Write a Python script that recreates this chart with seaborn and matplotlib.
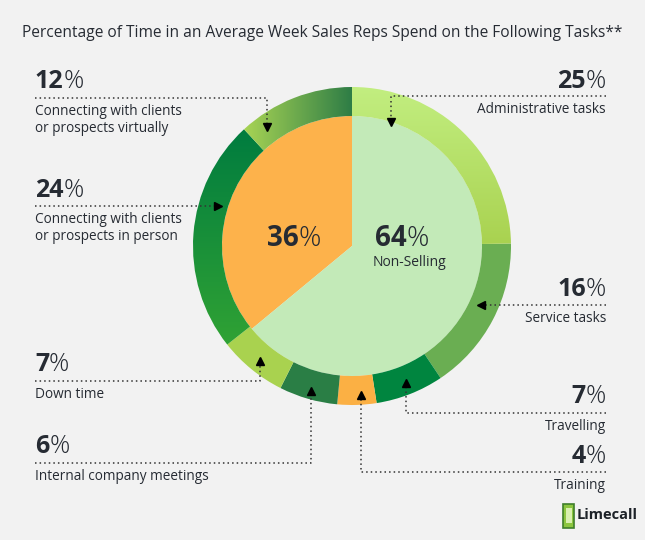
import numpy as np
import matplotlib
matplotlib.use("Agg")
import matplotlib.pyplot as plt
from matplotlib.colors import LinearSegmentedColormap
import seaborn as sns

# ---- data ----
title = "Percentage of Time in an Average Week Sales Reps Spend on the Following Tasks**"

split_labels = ["", "Non-Selling"]
split_values = [36, 64]
split_colors = ["#fdb24b", "#c3eab8"]

task_labels = ["Administrative tasks", "Service tasks", "Travelling", "Training",
               "Internal company meetings", "Down time",
               "Connecting with clients\nor prospects in person",
               "Connecting with clients\nor prospects virtually"]
task_values = [25, 16, 7, 4, 6, 7, 24, 12]
task_colors = ["#b6e068", "#6aae52", "#00853f", "#fbb044",
               "#2a7e45", "#a9d24f", "#17903a", "#6aa64b"]
# some ring segments are shaded: (index, start colour, end colour, direction)
task_gradients = [(0, "#a9d250", "#c2ee80", "v"),
                  (6, "#30a234", "#007c3f", "v"),
                  (7, "#a8d454", "#2e7d46", "h")]

# callout layout (pixel coords, y from top): side, baseline of %, line y, elbow x, arrow tip y
callouts = [
    ("right", 88, 96, 391, 125),
    ("right", 296, 305, 478, None),
    ("right", 403, 413, 406, 380),
    ("right", 463, 472, 361, 392),
    ("left", 453, 463, 311, 388),
    ("left", 371, 381, 260, 358),
    ("left", 197, 206, 221, None),
    ("left", 88, 98, 267, 130),
]

W, H = 645, 540
BG = "#f2f2f2"
INK = "#262b33"

sns.set_theme(style="white", rc={"figure.facecolor": BG, "axes.facecolor": BG})
plt.rcParams["font.family"] = ["Open Sans", "DejaVu Sans"]

fig = plt.figure(figsize=(W / 100, H / 100), dpi=100)
ax = fig.add_axes([0, 0, 1, 1])


def Y(y):
    return H - y


cx, cy = 352, Y(246)
R_out, R_in = 159, 130

ax.pie(split_values, colors=split_colors, startangle=90, counterclock=True,
       radius=R_in, center=(cx, cy), wedgeprops=dict(linewidth=0))
ring, _ = ax.pie(task_values, colors=task_colors, startangle=90, counterclock=False,
                 radius=R_out, center=(cx, cy),
                 wedgeprops=dict(width=R_out - R_in, linewidth=0))

for i, c0, c1, d in task_gradients:
    w = ring[i]
    ext = w.get_path().get_extents()
    w.set_facecolor("none")
    cmap = LinearSegmentedColormap.from_list("g%d" % i, [c0, c1])
    ramp = np.linspace(0, 1, 256)
    arr = ramp.reshape(1, -1) if d == "h" else ramp.reshape(-1, 1)
    im = ax.imshow(arr, cmap=cmap, origin="lower", aspect="auto",
                   extent=(ext.x0, ext.x1, ext.y0, ext.y1), zorder=w.get_zorder())
    im.set_clip_path(w)

ax.set_xlim(0, W)
ax.set_ylim(0, H)
ax.set_aspect("equal")
ax.axis("off")

renderer = fig.canvas.get_renderer()


def pct(x, y, num, ha, size=18):
    if ha == "left":
        t = ax.text(x, Y(y), num, fontsize=size, fontweight="bold", color=INK,
                    ha="left", va="baseline")
        w = t.get_window_extent(renderer).width
        ax.text(x + w, Y(y), "%", fontsize=size, fontweight="light", color=INK,
                ha="left", va="baseline")
    else:
        t = ax.text(x, Y(y), "%", fontsize=size, fontweight="light", color=INK,
                    ha="right", va="baseline")
        w = t.get_window_extent(renderer).width
        ax.text(x - w, Y(y), num, fontsize=size, fontweight="bold", color=INK,
                ha="right", va="baseline")


dot = dict(color="#333333", linewidth=1.1, linestyle=(0, (1, 2)))
LX, RX = 35, 606

for lab, val, (side, base, ly, ex, tip) in zip(task_labels, task_values, callouts):
    x0 = LX if side == "left" else RX
    pct(x0, base, str(val), side)
    ax.text(x0, Y(ly + 6), lab, fontsize=9.8, color=INK, ha=side, va="top",
            linespacing=1.2)
    if tip is None:
        # horizontal arrow into the ring
        ax.plot([x0, ex], [Y(ly), Y(ly)], **dot)
        if side == "left":
            ax.plot(ex - 3, Y(ly), marker=">", color="black", markersize=6)
        else:
            ax.plot(ex + 3, Y(ly), marker="<", color="black", markersize=6)
    else:
        ax.plot([x0, ex, ex], [Y(ly), Y(ly), Y(tip)], **dot)
        if tip > ly:
            ax.plot(ex, Y(tip - 3), marker="v", color="black", markersize=6)
        else:
            ax.plot(ex, Y(tip + 3), marker="^", color="black", markersize=6)

# centre labels
pct(267, 246, str(split_values[0]), "left", size=20)
pct(375, 246, str(split_values[1]), "left", size=20)
ax.text(373, Y(262), split_labels[1], fontsize=10, color=INK, ha="left", va="center")

ax.text(322, Y(33), title, fontsize=11.2, fontweight="medium", color=INK,
        ha="center", va="center")

# logo: small phone-like badge plus wordmark
ax.add_patch(plt.Rectangle((563, Y(528)), 11, 24, facecolor="#8cc63f",
                           edgecolor="#3f7f2a", linewidth=1.2))
ax.add_patch(plt.Rectangle((565.5, Y(523)), 6, 15, facecolor="#d9f0b0",
                           edgecolor="none"))
ax.text(577, Y(515), "Limecall", fontsize=10.5, fontweight="bold", color="#1d2228",
        ha="left", va="center")

fig.savefig("out.png", dpi=100, facecolor=BG)
